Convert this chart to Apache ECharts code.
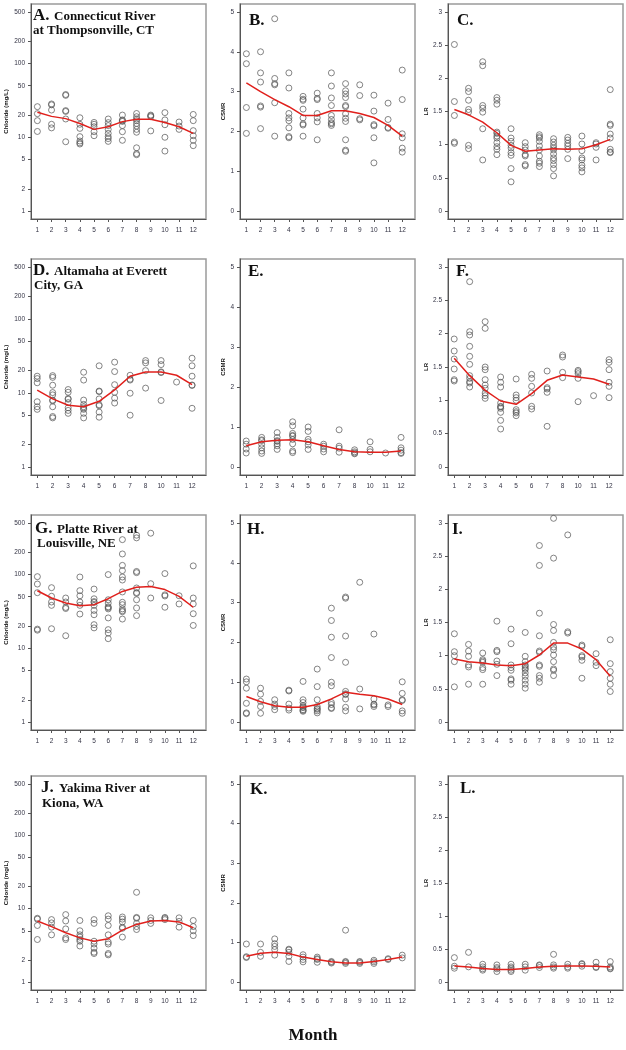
<!DOCTYPE html>
<html><head><meta charset="utf-8">
<script src="https://cdn.jsdelivr.net/npm/echarts@6/dist/echarts.min.js"></script>
<style>html,body{margin:0;padding:0;background:#fff}#c{width:626px;height:1050px}</style>
</head><body><div id="c"></div>
<script>
// ---------- categories & ticks ----------
const months12 = ['1','2','3','4','5','6','7','8','9','10','11','12'];
const monthsAltamaha = ['1','2','3','4','5','6','7','8','10','11','12'];
const chlorideTicks = [1,2,5,10,20,50,100,200,500];
const csmrTicks = [0,1,2,3,4,5];
const lrTicks = [0,0.5,1,1.5,2,2.5,3];

// ---------- A. Connecticut River ----------
const chlorideCT = [
 [26,20.9,16.8,12.0],[28.3,27.5,23.4,15,13.4],[38,37,23,22.4,17.7,8.7],
 [18.4,15,13.2,10.2,8.9,8.4,8.1],[15.9,15,13.9,11.9,10.5],[17.7,15.8,14.4,12.8,11.3,10.2,9.6,8.8],
 [20,17.2,16.8,16.4,14.4,11.9,9.1],[21,19,17.7,16.8,15.4,14.2,12.8,11.7,7.2,6.0,5.8],[20,19.5,19,12.2],
 [21.6,17.2,14.8,10,6.5],[16.1,14.2,12.8],[20.4,16.8,12.3,10.5,9.1,7.7]
];
const chlorideCTFit = [21.8,19.2,17.9,15.4,12.8,13.9,16.3,17.5,17.5,15.9,13.9,11.3];
const csmrCT = [
 [3.95,3.70,2.60,1.95],[4.0,3.47,3.24,2.64,2.61,2.07],[4.83,3.33,3.20,3.17,2.72,1.88],
 [3.47,3.09,2.45,2.34,2.27,2.09,1.87,1.84],[2.88,2.81,2.78,2.56,2.34,2.19,2.16,1.88],[2.96,2.83,2.80,2.45,2.34,2.24,1.79],
 [3.47,3.14,2.84,2.65,2.40,2.30,2.22,2.19,2.15],[3.2,3.02,2.94,2.85,2.65,2.62,2.44,2.33,2.25,1.79,1.53,1.50],[3.17,2.9,2.32,2.29],
 [2.91,2.51,2.17,2.14,1.84,1.21],[2.71,2.3,2.1,2.08],[3.54,2.80,1.94,1.84,1.58,1.48]
];
const csmrCTFit = [3.22,3.0,2.8,2.62,2.40,2.40,2.52,2.52,2.45,2.35,2.15,1.88];
const lrCT = [
 [2.51,1.65,1.44,1.04,1.02],[1.85,1.80,1.67,1.53,1.49,0.99,0.94],[2.25,2.19,1.59,1.55,1.49,1.24,0.77],
 [1.71,1.67,1.61,1.19,1.17,1.13,1.10,1.03,0.97,0.93,0.85],[1.24,1.10,1.05,0.99,0.95,0.88,0.84,0.64,0.44],[1.03,0.97,0.92,0.85,0.83,0.70,0.68],
 [1.15,1.12,1.10,1.05,0.98,0.92,0.83,0.75,0.72,0.67],[1.09,1.04,0.99,0.95,0.92,0.86,0.80,0.76,0.70,0.64,0.53],[1.11,1.07,1.02,0.98,0.93,0.79],
 [1.13,1.01,0.91,0.80,0.77,0.69,0.65,0.59],[1.03,1.01,0.96,0.77],[1.83,1.31,1.29,1.16,1.10,0.93,0.89,0.88]
];
const lrCTFit = [1.53,1.45,1.34,1.18,0.99,0.90,0.92,0.94,0.93,0.94,1.0,1.08];

// ---------- D. Altamaha (no September samples) ----------
const chlorideGA = [
 [16.8,15.6,13.7,7.6,6.5,6.0],[17.1,16.2,12.7,10.1,9.4,8.0,7.8,6.5,4.8,4.6],[11.1,10.2,8.4,8.2,7.4,6.3,5.8,5.3],
 [19.0,14.9,8.0,7.0,6.5,6.2,6.0,5.3,4.6],[23.2,10.6,10.4,8.3,6.9,6.7,5.5,4.7],[26,19.4,12.9,10.2,8.5,7.3],
 [17.3,15.3,14.9,9.9,5.0],[27.3,25.4,20,11.6],[27.3,24.1,19.2,18.8,7.9],[14.0],[29.4,23.2,16.8,12.8,12.6,6.2]
];
const chlorideGAFit = [10.9,8.3,6.8,6.5,7.7,11.0,16.8,19.2,19.2,17.3,12.9];
const csmrGA = [
 [0.65,0.57,0.45,0.35],[0.74,0.68,0.66,0.57,0.48,0.40,0.34],[0.86,0.74,0.66,0.64,0.58,0.53,0.44],
 [1.13,1.03,0.84,0.79,0.77,0.69,0.58,0.40,0.36],[1.0,0.89,0.69,0.63,0.55,0.44],[0.57,0.52,0.45,0.38],
 [0.93,0.52,0.47,0.37],[0.43,0.38,0.35,0.33],[0.63,0.44,0.38],[0.35],[0.74,0.48,0.42,0.36,0.34]
];
const csmrGAFit = [0.53,0.63,0.67,0.68,0.63,0.53,0.44,0.38,0.37,0.37,0.40];
const lrGA = [
 [1.92,1.74,1.62,1.47,1.31,1.29],[2.78,2.03,1.98,1.81,1.66,1.54,1.37,1.33,1.28,1.26,1.20],[2.18,2.08,1.50,1.46,1.31,1.23,1.18,1.11,1.07,1.03],
 [1.35,1.27,1.20,0.96,0.91,0.90,0.88,0.82,0.70,0.57],[1.32,1.08,1.04,1.0,0.86,0.83,0.81,0.77],[1.39,1.33,1.21,1.11,0.91,0.87],
 [1.44,1.19,1.17,1.12,0.61],[1.68,1.65,1.42,1.34],[1.45,1.43,1.40,1.33,0.98],[1.07],[1.61,1.57,1.46,1.27,1.21,1.04]
];
const lrGAFit = [1.63,1.37,1.15,0.99,0.94,1.1,1.3,1.38,1.35,1.32,1.24];

// ---------- G. Platte River ----------
const chlorideNE = [
 [93.5,74.3,56.7,18.2,17.6],[66.3,50.7,42.4,38.2,18.4],[48.0,42.4,35.8,34.6,14.8],
 [92.5,60.4,51.5,42.4,38.2,29.1],[63.5,46.9,43.0,41.8,38.2,32.6,28.5,20.9,18.9],[99.8,45.5,41.0,36.5,35.5,34.2,25.8,17.9,16.1,13.5],
 [297,190,133,113,92.5,84.2,58.0,42.0,39.0,34.2,32.3,31.3,24.9],[341,314,110,106,65.7,57,55.5,45.5,35.2,27.7],[363,75.1,48.0],
 [103,53,51.2,36.0],[51.5,39.9],[131,48.0,39.9,29.4,20.4]
];
const chlorideNEFit = [60.3,48,41,37.8,39,47,59,67,69,62.5,50.6,36];
const csmrNE = [
 [1.08,1.01,0.85,0.47,0.23,0.21],[0.85,0.70,0.52,0.39,0.22],[0.56,0.45,0.39,0.31],
 [0.80,0.78,0.45,0.35,0.30],[1.02,0.56,0.49,0.41,0.38,0.36,0.31,0.29,0.27],[1.33,0.89,0.56,0.39,0.34,0.32,0.28,0.23],
 [2.86,2.55,2.13,1.62,1.0,0.91,0.49,0.44,0.36,0.34],[3.14,3.11,2.16,1.50,0.77,0.71,0.69,0.58,0.37,0.28],[3.51,0.83,0.33],
 [2.21,0.58,0.45,0.43,0.39],[0.43,0.39],[1.01,0.72,0.56,0.54,0.28,0.22]
];
const csmrNEFit = [0.64,0.51,0.41,0.37,0.37,0.44,0.58,0.75,0.70,0.66,0.58,0.44];
const lrNE = [
 [1.33,1.06,1.0,0.91,0.53],[1.17,1.07,0.99,0.86,0.83,0.57],[1.04,0.94,0.92,0.90,0.82,0.79,0.57],
 [1.52,1.08,1.06,0.92,0.87,0.70],[1.40,1.18,0.86,0.82,0.78,0.65,0.63,0.57],[1.35,0.99,0.91,0.86,0.84,0.81,0.79,0.74,0.69,0.63,0.57,0.51],
 [2.66,2.36,1.64,1.30,1.07,1.05,0.86,0.84,0.70,0.66,0.60],[3.07,2.47,1.47,1.38,1.2,1.13,1.09,1.01,0.91,0.80,0.78,0.70],[2.82,1.36,1.34],
 [1.16,1.14,1.0,0.98,0.93,0.66],[1.03,0.90,0.85],[1.24,0.88,0.76,0.66,0.57,0.46]
];
const lrNEFit = [0.95,0.91,0.89,0.86,0.85,0.88,1.01,1.19,1.19,1.10,0.94,0.69];

// ---------- J. Yakima River ----------
const chlorideWA = [
 [7.4,7.2,5.9,3.8],[7.1,6.4,5.6,4.4],[8.3,6.8,5.3,4.0,3.8],
 [6.9,5.0,4.4,4.1,3.8,3.6,3.1],[7.1,6.3,3.6,3.3,2.9,2.55,2.45],[8.0,7.2,5.9,4.4,3.5,3.3,2.45,2.35],
 [7.7,7.2,6.6,5.6,5.4,4.1],[16.7,7.6,7.4,6.3,5.7,5.2],[7.5,6.9,6.3],
 [7.6,7.4,7.1],[7.5,6.7,5.6],[6.9,5.7,5.0,4.3]
];
const chlorideWAFit = [6.8,5.7,4.7,4.0,3.6,3.9,5.1,6.1,6.8,6.9,6.6,5.5];
const csmrWA = [
 [0.96,0.64,0.62],[0.96,0.75,0.65],[1.09,0.97,0.90,0.82,0.68],
 [0.83,0.81,0.75,0.65,0.52],[0.69,0.63,0.57,0.51],[0.63,0.59,0.57,0.50],
 [0.52,0.50,0.48],[1.31,0.52,0.50,0.47],[0.52,0.50,0.47],
 [0.55,0.51,0.47],[0.59,0.57],[0.68,0.61]
];
const csmrWAFit = [0.65,0.73,0.75,0.72,0.63,0.57,0.51,0.48,0.48,0.52,0.57,0.63];
const lrWA = [
 [0.37,0.24,0.21],[0.45,0.23],[0.27,0.23,0.20,0.18],
 [0.26,0.22,0.20,0.16],[0.27,0.23,0.21,0.18,0.16],[0.27,0.23,0.18],
 [0.26,0.25,0.22],[0.42,0.26,0.23,0.21],[0.27,0.23,0.21],
 [0.28,0.27,0.24],[0.30,0.23,0.22],[0.31,0.23,0.21,0.20]
];
const lrWAFit = [0.245,0.23,0.205,0.19,0.19,0.205,0.23,0.24,0.245,0.245,0.24,0.23];

// ---------- layout ----------
const rows = [{top:4,h:215},{top:259,h:216},{top:515,h:215},{top:776,h:214}];
const cols = [{left:31,w:175},{left:240,w:175},{left:448,w:175}];

const panels = [
 {r:0,c:0,kind:'cl',months:months12,pts:chlorideCT,fit:chlorideCTFit,letter:'A.',lp:[33,21],l1:['Connecticut River',54,21],l2:['at Thompsonville, CT',33,35]},
 {r:0,c:1,kind:'cs',months:months12,pts:csmrCT,fit:csmrCTFit,letter:'B.',lp:[249,26]},
 {r:0,c:2,kind:'lr',months:months12,pts:lrCT,fit:lrCTFit,letter:'C.',lp:[457,26]},
 {r:1,c:0,kind:'cl',months:monthsAltamaha,pts:chlorideGA,fit:chlorideGAFit,letter:'D.',lp:[33,276],l1:['Altamaha at Everett',54,276],l2:['City, GA',34,290]},
 {r:1,c:1,kind:'cs',months:monthsAltamaha,pts:csmrGA,fit:csmrGAFit,letter:'E.',lp:[248,277]},
 {r:1,c:2,kind:'lr',months:monthsAltamaha,pts:lrGA,fit:lrGAFit,letter:'F.',lp:[456,277]},
 {r:2,c:0,kind:'cl',months:months12,pts:chlorideNE,fit:chlorideNEFit,letter:'G.',lp:[35,534],l1:['Platte River at',57,534],l2:['Louisville, NE',37,548]},
 {r:2,c:1,kind:'cs',months:months12,pts:csmrNE,fit:csmrNEFit,letter:'H.',lp:[247,535]},
 {r:2,c:2,kind:'lr',months:months12,pts:lrNE,fit:lrNEFit,letter:'I.',lp:[452,535]},
 {r:3,c:0,kind:'cl',months:months12,pts:chlorideWA,fit:chlorideWAFit,letter:'J.',lp:[41,793],l1:['Yakima River at',59,793],l2:['Kiona, WA',42,808]},
 {r:3,c:1,kind:'cs',months:months12,pts:csmrWA,fit:csmrWAFit,letter:'K.',lp:[250,795]},
 {r:3,c:2,kind:'lr',months:months12,pts:lrWA,fit:lrWAFit,letter:'L.',lp:[460,794]}
];

const tickFont = {fontSize:6.5, color:'#333344', fontFamily:'Liberation Sans'};
const nameFont = {fontSize:6, fontWeight:'bold', color:'#111', fontFamily:'Liberation Sans'};
const axisLineStyle = {color:'#555', width:1};
const grid=[], xAxis=[], yAxis=[], series=[], graphic=[];

function addText(txt, x, baseline, size){
  graphic.push({type:'text', x:x, y:baseline - 0.33*size, silent:true,
    style:{text:txt, fill:'#111', font:'bold '+size+'px "Liberation Serif"', fontSize:size, fontWeight:'bold', fontFamily:'Liberation Serif',
      align:'left', verticalAlign:'middle', textAlign:'left', textVerticalAlign:'middle'}});
}

panels.forEach((p, gi) => {
  const R = rows[p.r], C = cols[p.c];
  grid.push({left:C.left, top:R.top, width:C.w, height:R.h, show:true, borderColor:'#9a9a9a', borderWidth:1.5, backgroundColor:'transparent'});
  const n = p.months.length;
  const idx = p.months.map((m,i)=>i+1);
  xAxis.push({type:'value', gridIndex:gi, min: n===12?0.55:0.6, max: n===12?12.9:11.9,
    splitLine:{show:false},
    axisLine:{show:true, onZero:false, lineStyle:axisLineStyle},
    axisTick:{show:true, customValues:idx, length:3, lineStyle:axisLineStyle},
    axisLabel:Object.assign({customValues:idx, margin:8, formatter:v=>p.months[Math.round(v)-1]}, tickFont)});
  let yi;
  if (p.kind === 'cl') {
    yi = yAxis.length;
    yAxis.push({type:'log', logBase:10, gridIndex:gi, min:0.78, max:641, show:false, splitLine:{show:false}});
    const lo = Math.log10(0.78), hi = Math.log10(641);
    const cv = chlorideTicks.map(t=>Math.log10(t));
    yAxis.push({type:'value', gridIndex:gi, position:'left', min:lo, max:hi,
      name:'Chloride (mg/L)', nameLocation:'middle', nameGap:22, nameTextStyle:nameFont,
      splitLine:{show:false},
      axisLine:{show:true, onZero:false, lineStyle:axisLineStyle},
      axisTick:{show:true, customValues:cv, length:3, lineStyle:axisLineStyle},
      axisLabel:Object.assign({customValues:cv, margin:6, formatter:v=>String(Math.round(Math.pow(10,v)))}, tickFont)});
  } else {
    const cs = p.kind === 'cs';
    const ticks = cs ? csmrTicks : lrTicks;
    yi = yAxis.length;
    yAxis.push({type:'value', gridIndex:gi, position:'left', min: cs?-0.2:-0.12, max: cs?5.2:3.12,
      name: cs?'CSMR':'LR', nameLocation:'middle', nameGap: cs?14:18, nameTextStyle:nameFont,
      splitLine:{show:false},
      axisLine:{show:true, onZero:false, lineStyle:axisLineStyle},
      axisTick:{show:true, customValues:ticks, length:3, lineStyle:axisLineStyle},
      axisLabel:Object.assign({customValues:ticks, margin:6, formatter:v=>String(v)}, tickFont)});
  }
  const pts = [];
  p.pts.forEach((vals,i)=>vals.forEach(v=>pts.push([i+1, v])));
  series.push({type:'scatter', xAxisIndex:gi, yAxisIndex:yi, data:pts, symbol:'circle', symbolSize:6,
    itemStyle:{color:'rgba(0,0,0,0)', borderColor:'#555', borderWidth:0.9}, z:2, silent:true});
  series.push({type:'line', xAxisIndex:gi, yAxisIndex:yi, data:p.fit.map((v,i)=>[i+1,v]), symbol:'none',
    lineStyle:{color:'#e0201c', width:1.5}, z:3, silent:true});
  addText(p.letter, p.lp[0], p.lp[1], 17);
  if (p.l1) { addText(p.l1[0], p.l1[1], p.l1[2], 13); addText(p.l2[0], p.l2[1], p.l2[2], 13); }
});

graphic.push({type:'text', x:313, y:1036, silent:true,
  style:{text:'Month', fill:'#111', font:'bold 17px "Liberation Serif"', fontSize:17, fontWeight:'bold', fontFamily:'Liberation Serif',
    align:'center', verticalAlign:'middle', textAlign:'center', textVerticalAlign:'middle'}});

const chart = echarts.init(document.getElementById('c'));
chart.setOption({animation:false, backgroundColor:'#fff', grid, xAxis, yAxis, series, graphic});
</script></body></html>
